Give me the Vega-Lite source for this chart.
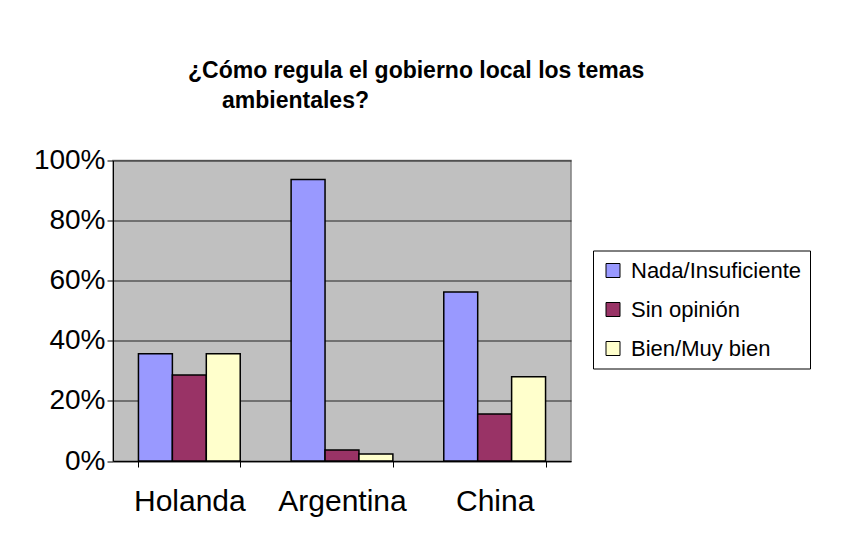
{
  "$schema": "https://vega.github.io/schema/vega-lite/v6.json",
  "width": 458,
  "height": 300.5,
  "autosize": {"type": "none"},
  "padding": {"left": 113, "top": 160.5, "right": 272, "bottom": 72.5},
  "background": "white",
  "title": {
    "text": ["¿Cómo regula el gobierno local los temas", "\u2800\u2800ambientales?"],
    "anchor": "start",
    "frame": "group",
    "align": "left",
    "dx": 75,
    "offset": 34,
    "font": "Liberation Sans",
    "fontSize": 23,
    "fontWeight": "bold",
    "color": "black",
    "lineHeight": 30
  },
  "data": {
    "values": [
      {"pais": "Holanda", "resp": "Nada/Insuficiente", "pct": 0.357},
      {"pais": "Holanda", "resp": "Sin opinión", "pct": 0.286},
      {"pais": "Holanda", "resp": "Bien/Muy bien", "pct": 0.357},
      {"pais": "Argentina", "resp": "Nada/Insuficiente", "pct": 0.937},
      {"pais": "Argentina", "resp": "Sin opinión", "pct": 0.037},
      {"pais": "Argentina", "resp": "Bien/Muy bien", "pct": 0.023},
      {"pais": "China", "resp": "Nada/Insuficiente", "pct": 0.562},
      {"pais": "China", "resp": "Sin opinión", "pct": 0.156},
      {"pais": "China", "resp": "Bien/Muy bien", "pct": 0.28}
    ]
  },
  "mark": {"type": "bar", "stroke": "black", "strokeWidth": 1.5},
  "encoding": {
    "x": {
      "field": "pais",
      "type": "nominal",
      "sort": null,
      "scale": {"paddingInner": 0.3333, "paddingOuter": 0.1667},
      "axis": {
        "title": null,
        "labelAngle": 0,
        "tickBand": "extent",
        "labelFont": "Liberation Sans",
        "labelFontSize": 30,
        "labelColor": "black",
        "domainColor": "black",
        "domainWidth": 1,
        "tickColor": "black",
        "tickSize": 6,
        "labelPadding": 19,
        "grid": false
      }
    },
    "xOffset": {
      "field": "resp",
      "type": "nominal",
      "sort": ["Nada/Insuficiente", "Sin opinión", "Bien/Muy bien"],
      "scale": {"paddingInner": 0, "paddingOuter": 0}
    },
    "y": {
      "field": "pct",
      "type": "quantitative",
      "scale": {"domain": [0, 1], "nice": false},
      "axis": {
        "title": null,
        "format": ".0%",
        "values": [0, 0.2, 0.4, 0.6, 0.8, 1],
        "labelFont": "Liberation Sans",
        "labelFontSize": 28,
        "labelColor": "black",
        "labelPadding": 2,
        "domainColor": "black",
        "tickColor": "black",
        "tickSize": 6,
        "grid": true,
        "gridColor": "#222222",
        "gridWidth": 1
      }
    },
    "color": {
      "field": "resp",
      "type": "nominal",
      "sort": ["Nada/Insuficiente", "Sin opinión", "Bien/Muy bien"],
      "scale": {
        "domain": ["Nada/Insuficiente", "Sin opinión", "Bien/Muy bien"],
        "range": ["#9999FF", "#993366", "#FFFFCC"]
      },
      "legend": {
        "orient": "none",
        "legendX": 480,
        "legendY": 90,
        "title": null,
        "strokeColor": "black",
        "fillColor": "white",
        "padding": 9,
        "symbolType": "square",
        "symbolSize": 196,
        "symbolStrokeColor": "black",
        "symbolStrokeWidth": 1,
        "labelFont": "Liberation Sans",
        "labelFontSize": 22,
        "labelColor": "black",
        "labelLimit": 300,
        "labelOffset": 7,
        "rowPadding": 17
      }
    }
  },
  "config": {
    "view": {"fill": "#C0C0C0", "stroke": "#808080", "strokeWidth": 1.5}
  }
}
